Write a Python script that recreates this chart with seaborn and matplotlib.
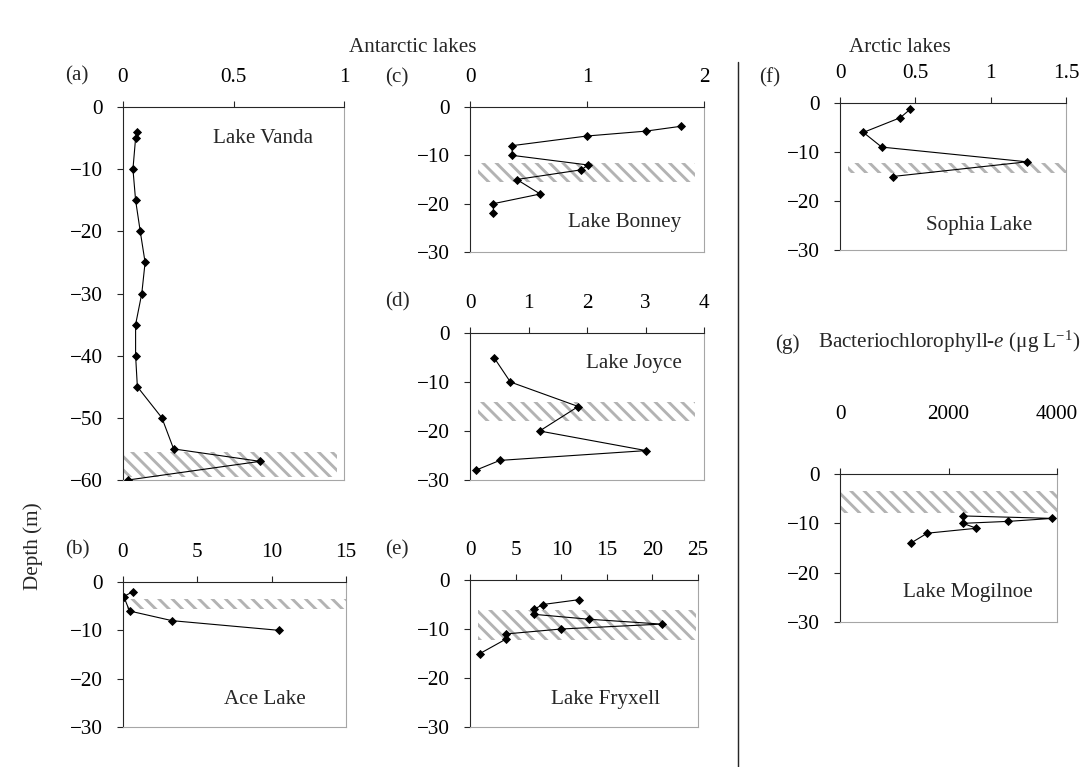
import matplotlib
matplotlib.use("Agg")
import matplotlib.pyplot as plt
from matplotlib.lines import Line2D
import pandas as pd
import seaborn as sns

# ---- data: bacteriochlorophyll-e concentration vs depth (m) ----
vanda_conc = [0.065, 0.057, 0.045, 0.057, 0.078, 0.10, 0.085, 0.057, 0.057, 0.065, 0.176, 0.229, 0.62, 0.023]
vanda_depth = [-4, -5, -10, -15, -20, -25, -30, -35, -40, -45, -50, -55, -57, -60]

ace_conc = [0.66, 0.05, 0.44, 3.3, 10.5]
ace_depth = [-2, -3, -6, -8, -10]

bonney_conc = [1.8, 1.5, 1.0, 0.36, 0.36, 1.01, 0.95, 0.40, 0.60, 0.20, 0.20]
bonney_depth = [-4, -5, -6, -8, -10, -12, -13, -15, -18, -20, -22]

joyce_conc = [0.41, 0.69, 1.85, 1.19, 3.01, 0.51, 0.10]
joyce_depth = [-5, -10, -15, -20, -24, -26, -28]

fryxell_conc = [12.0, 8.0, 7.0, 7.0, 13.0, 21.0, 10.0, 4.0, 4.0, 1.1]
fryxell_depth = [-4, -5, -6, -7, -8, -9, -10, -11, -12, -15]

sophia_conc = [0.465, 0.40, 0.155, 0.277, 1.24, 0.35]
sophia_depth = [-1.3, -3, -6, -9, -12, -15]

mogilnoe_conc = [2265, 3915, 3105, 2265, 2515, 1607, 1307]
mogilnoe_depth = [-8.5, -9.0, -9.6, -10.0, -11.0, -12.0, -14.0]

# chemocline bands (depth range)
vanda_band = (-59.5, -55.5)
ace_band = (-5.6, -3.6)
bonney_band = (-15.6, -11.6)
joyce_band = (-18.0, -14.0)
fryxell_band = (-12.3, -6.2)
sophia_band = (-14.3, -12.3)
mogilnoe_band = (-7.9, -3.4)

W, H, DPI = 1091, 767, 80

sns.set_style("ticks")
plt.rcParams["font.family"] = ["Liberation Serif", "DejaVu Serif"]
plt.rcParams["mathtext.fontset"] = "custom"
plt.rcParams["mathtext.rm"] = "Liberation Serif"
plt.rcParams["mathtext.it"] = "Liberation Serif:italic"
plt.rcParams["hatch.linewidth"] = 2.6
FS = 19
DARK = "#262626"
LIGHT = "#a6a6a6"
HATCH = "#b3b3b3"

fig = plt.figure(figsize=(W / DPI, H / DPI), dpi=DPI)


def make_axes(left, top, right, bottom):
    return fig.add_axes([left / W, 1 - bottom / H, (right - left) / W, (bottom - top) / H])


def draw_panel(ax, conc, depth, band, band_x, xmax, xticks, ymin, name, name_pos, xpad=13):
    df = pd.DataFrame({"conc": conc, "depth": depth})
    ax.axhspan(band[0], band[1], xmin=band_x[0], xmax=band_x[1], facecolor="none",
               edgecolor=HATCH, hatch="\\\\", linewidth=0, zorder=1)
    sns.lineplot(data=df, x="conc", y="depth", sort=False, estimator=None, ax=ax,
                 color="black", linewidth=1.0, marker="D", markersize=4.5,
                 markeredgecolor="black", zorder=3)
    ax.set_xlim(0, xmax)
    ax.set_ylim(ymin, 0)
    ax.set_xticks(xticks)
    ax.set_xticklabels([("%g" % t) for t in xticks])
    ax.set_yticks(list(range(ymin, 1, 10)))
    ax.xaxis.tick_top()
    ax.set_xlabel("")
    ax.set_ylabel("")
    for s in ("left", "top"):
        ax.spines[s].set_color(DARK)
        ax.spines[s].set_linewidth(1.0)
    for s in ("right", "bottom"):
        ax.spines[s].set_visible(True)
        ax.spines[s].set_color(LIGHT)
        ax.spines[s].set_linewidth(1.0)
    ax.tick_params(axis="x", which="both", top=True, bottom=False, direction="out",
                   length=5, width=1, color=DARK, labelsize=FS, pad=xpad, labelcolor="black")
    ax.tick_params(axis="y", which="both", left=True, right=False, direction="out",
                   length=5, width=1, color=DARK, labelsize=FS, pad=13, labelcolor="black")
    ax.set_facecolor("white")
    ax.text(name_pos[0], name_pos[1], name, transform=ax.transAxes, ha="center",
            va="center", fontsize=FS)


ax_a = make_axes(123, 107, 344, 480)
draw_panel(ax_a, vanda_conc, vanda_depth, vanda_band, (0.0, 0.97), 1, [0, 0.5, 1], -60,
           "Lake Vanda", (0.633, 0.915))

ax_b = make_axes(123, 582, 346, 727)
draw_panel(ax_b, ace_conc, ace_depth, ace_band, (0.02, 1.0), 15, [0, 5, 10, 15], -30,
           "Ace Lake", (0.637, 0.19))

ax_c = make_axes(470, 107, 704, 252)
draw_panel(ax_c, bonney_conc, bonney_depth, bonney_band, (0.034, 0.96), 2, [0, 1, 2], -30,
           "Lake Bonney", (0.66, 0.2))

ax_d = make_axes(470, 333, 704, 480)
draw_panel(ax_d, joyce_conc, joyce_depth, joyce_band, (0.034, 0.96), 4, [0, 1, 2, 3, 4], -30,
           "Lake Joyce", (0.70, 0.79))

ax_e = make_axes(470, 580, 698, 727)
draw_panel(ax_e, fryxell_conc, fryxell_depth, fryxell_band, (0.035, 0.99), 25,
           [0, 5, 10, 15, 20, 25], -30, "Lake Fryxell", (0.596, 0.19))

ax_f = make_axes(840, 103, 1066, 250)
draw_panel(ax_f, sophia_conc, sophia_depth, sophia_band, (0.035, 1.0), 1.5, [0, 0.5, 1, 1.5], -30,
           "Sophia Lake", (0.615, 0.17))

ax_g = make_axes(840, 474, 1057, 622)
draw_panel(ax_g, mogilnoe_conc, mogilnoe_depth, mogilnoe_band, (0.0, 1.0), 4000, [0, 2000, 4000],
           -30, "Lake Mogilnoe", (0.59, 0.196), xpad=40)


def fig_text(x, y, s, **kw):
    fig.text(x / W, 1 - y / H, s, fontsize=FS, **kw)


# panel letters
for letter, (x, y) in {"(a)": (77, 76), "(b)": (77, 550), "(c)": (397, 78), "(d)": (397, 302),
                       "(e)": (397, 550), "(f)": (770, 78), "(g)": (787, 344)}.items():
    fig_text(x, y, letter, ha="center", va="center")

fig_text(413, 47, "Antarctic lakes", ha="center", va="center")
fig_text(900, 47, "Arctic lakes", ha="center", va="center")
fig_text(33, 546, "Depth (m)", ha="center", va="center", rotation=90)
fig_text(818, 342, r"Bacteriochlorophyll-$\it{e}$ (μg L$^{-1}$)", ha="left", va="center")

# divider between the Antarctic and Arctic groups
fig.add_artist(Line2D([738 / W, 738 / W], [0, 1 - 62 / H], transform=fig.transFigure,
                      color=DARK, linewidth=1.3))

fig.savefig("out.png", dpi=DPI, facecolor="white")
